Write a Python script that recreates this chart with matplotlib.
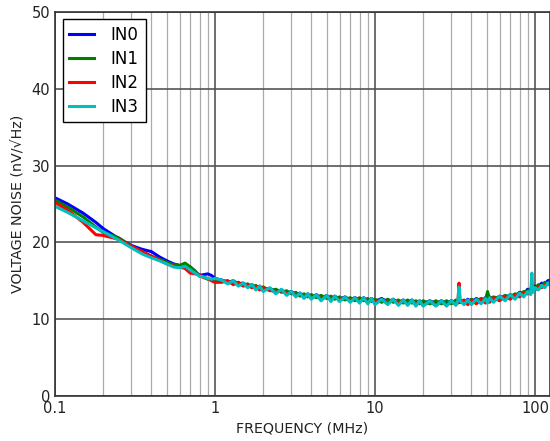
import matplotlib
matplotlib.use('Agg')
import matplotlib.pyplot as plt
from matplotlib.ticker import FixedLocator, NullFormatter

# sweep frequencies, MHz
freq = [0.1, 0.12, 0.15, 0.18, 0.2, 0.25, 0.3, 0.35, 0.4, 0.45, 0.5, 0.55,
        0.6, 0.65, 0.7, 0.75, 0.8, 0.85, 0.9, 0.95, 1.0,
        1.1, 1.2, 1.3, 1.4, 1.5, 1.6, 1.7, 1.8, 1.9, 2.0,
        2.2, 2.4, 2.6, 2.8, 3.0, 3.2, 3.4, 3.6, 3.8, 4.0,
        4.3, 4.6, 5.0, 5.3, 5.6, 6.0, 6.5, 7.0, 7.5, 8.0,
        8.5, 9.0, 9.5, 10, 11, 12, 13, 14, 15, 16,
        17, 18, 19, 20, 22, 24, 26, 28, 30, 32,
        33, 33.5, 34, 36, 38, 40, 43, 46, 49, 50.5,
        52, 55, 60, 65, 70, 75, 80, 85, 90, 94,
        95.5, 97, 100, 105, 110, 115, 120, 125]

# input-referred voltage noise, nV/rtHz
in0 = [25.8, 25.0, 23.8, 22.6, 21.8, 20.5, 19.6, 19.1, 18.8, 18.1, 17.6,
       17.2, 17.0, 17.0, 16.8, 16.2, 15.7, 15.8, 15.9, 15.7, 15.3,
       15.1, 14.8, 15.0, 14.6, 14.7, 14.3, 14.5, 14.1, 14.3, 13.9,
       14.0, 13.6, 13.8, 13.4, 13.6, 13.1, 13.4, 12.9, 13.3, 12.8,
       13.2, 12.7, 13.1, 12.6, 13.0, 12.6, 12.9, 12.5, 12.8, 12.4,
       12.8, 12.3, 12.7, 12.3, 12.7, 12.2, 12.6, 12.1, 12.5, 12.1,
       12.5, 12.0, 12.4, 12.0, 12.4, 12.0, 12.4, 12.0, 12.4, 12.1,
       12.5, 12.2, 12.5, 12.1, 12.6, 12.2, 12.7, 12.3, 12.8, 12.4,
       12.9, 12.5, 13.0, 12.7, 13.2, 12.9, 13.5, 13.3, 13.9, 13.6,
       14.1, 13.8, 14.3, 14.2, 14.7, 14.5, 15.0, 15.1]
in1 = [25.5, 24.6, 23.3, 22.0, 21.3, 20.6, 19.5, 18.8, 18.2, 17.8, 17.4,
       17.1, 17.0, 17.3, 16.8, 16.3, 15.6, 15.5, 15.2, 15.2, 15.0,
       14.9, 15.0, 14.6, 14.8, 14.4, 14.6, 14.1, 14.4, 13.9, 14.2,
       13.7, 13.9, 13.5, 13.7, 13.3, 13.5, 13.0, 13.3, 12.9, 13.2,
       12.8, 13.1, 12.7, 13.0, 12.6, 12.9, 12.5, 12.8, 12.4, 12.8,
       12.4, 12.7, 12.3, 12.6, 12.2, 12.6, 12.2, 12.5, 12.1, 12.5,
       12.1, 12.4, 12.0, 12.4, 12.0, 12.4, 12.0, 12.4, 12.0, 12.5,
       12.1, 12.5, 12.2, 12.5, 12.1, 12.6, 12.3, 12.7, 12.5, 13.6,
       12.6, 12.9, 12.7, 13.1, 12.9, 13.3, 13.2, 13.6, 13.6, 14.0,
       13.7, 14.2, 14.0, 14.5, 14.3, 14.8, 14.7, 15.0]
in2 = [25.2, 24.2, 22.6, 21.0, 20.9, 20.4, 19.5, 18.8, 18.2, 17.7, 17.2,
       16.9, 16.8, 16.6, 16.0, 15.9, 15.8, 15.4, 15.3, 15.0, 14.8,
       14.8, 15.0, 14.5, 14.8, 14.3, 14.5, 14.1, 14.3, 13.8, 14.1,
       13.8, 13.5, 13.7, 13.3, 13.5, 13.1, 13.3, 12.9, 13.2, 12.8,
       13.1, 12.6, 13.0, 12.6, 12.9, 12.5, 12.8, 12.4, 12.8, 12.3,
       12.7, 12.3, 12.6, 12.2, 12.6, 12.1, 12.5, 12.1, 12.4, 12.0,
       12.4, 11.9, 12.3, 11.8, 12.3, 11.8, 12.3, 11.8, 12.3, 11.9,
       12.4, 14.7, 12.2, 12.4, 11.9, 12.5, 12.0, 12.6, 12.1, 12.7,
       12.2, 12.8, 12.4, 13.0, 12.6, 13.2, 12.9, 13.4, 13.3, 13.7,
       13.5, 14.0, 13.8, 14.2, 14.1, 14.5, 14.5, 14.9]
in3 = [24.7, 23.9, 22.8, 21.9, 21.4, 20.3, 19.3, 18.5, 18.0, 17.6, 17.2,
       16.8, 16.7, 16.9, 16.4, 16.0, 15.6, 15.5, 15.3, 15.2, 15.3,
       15.1, 14.6, 15.0, 14.3, 14.7, 14.1, 14.5, 13.8, 14.3, 13.6,
       14.1, 13.3, 13.9, 13.1, 13.6, 12.9, 13.4, 12.7, 13.3, 12.6,
       13.2, 12.4, 13.1, 12.3, 13.0, 12.3, 12.9, 12.2, 12.8, 12.1,
       12.8, 12.0, 12.7, 11.9, 12.6, 11.9, 12.6, 11.8, 12.5, 11.8,
       12.5, 11.7, 12.4, 11.7, 12.4, 11.7, 12.4, 11.7, 12.4, 11.8,
       12.5, 14.2, 12.4, 11.9, 12.5, 11.9, 12.6, 12.0, 12.7, 12.1,
       12.8, 12.2, 13.0, 12.4, 13.2, 12.6, 13.4, 12.9, 13.6, 13.2,
       16.0, 13.5, 14.1, 13.8, 14.4, 14.1, 14.7, 14.4]

names = ['IN0', 'IN1', 'IN2', 'IN3']
colors = ['blue', 'green', 'red', 'c']

fig = plt.figure(figsize=(5.5, 4.41), dpi=100)
ax = fig.add_axes([0.1, 0.102, 0.9, 0.871])

for y, name, c in zip([in0, in1, in2, in3], names, colors):
    ax.plot(freq, y, color=c, linewidth=2.2, label=name)

ax.set_xscale('log')
ax.set_xlim(0.1, 124)
ax.set_ylim(0, 50)
ax.set_yticks([0, 10, 20, 30, 40, 50])
ax.xaxis.set_major_locator(FixedLocator([0.1, 1, 10, 100]))
ax.set_xticklabels(['0.1', '1', '10', '100'])
minors = [m * d for d in [0.1, 1, 10, 100] for m in range(2, 10)]
ax.xaxis.set_minor_locator(FixedLocator(minors))
ax.xaxis.set_minor_formatter(NullFormatter())

ax.grid(True, which='major', color='#555555', linewidth=1.2)
ax.grid(True, which='minor', axis='x', color='#aaaaaa', linewidth=0.9)
ax.set_axisbelow(True)
ax.tick_params(which='both', direction='in', length=0, labelsize=10.5,
               colors='#222222')

for s in ax.spines.values():
    s.set_color('#333333')
    s.set_linewidth(1.2)

ax.set_xlabel('FREQUENCY (MHz)', fontsize=10.3, color='#222222')
ax.set_ylabel('VOLTAGE NOISE (nV/√Hz)', fontsize=10.3, color='#222222')

leg = ax.legend(loc='upper left', fontsize=12, fancybox=False,
                edgecolor='black', framealpha=1, handlelength=1.5,
                borderpad=0.4, labelspacing=0.35, handletextpad=1.0,
                borderaxespad=0.45)
leg.get_frame().set_linewidth(1.0)

fig.savefig('out.png', dpi=100)
